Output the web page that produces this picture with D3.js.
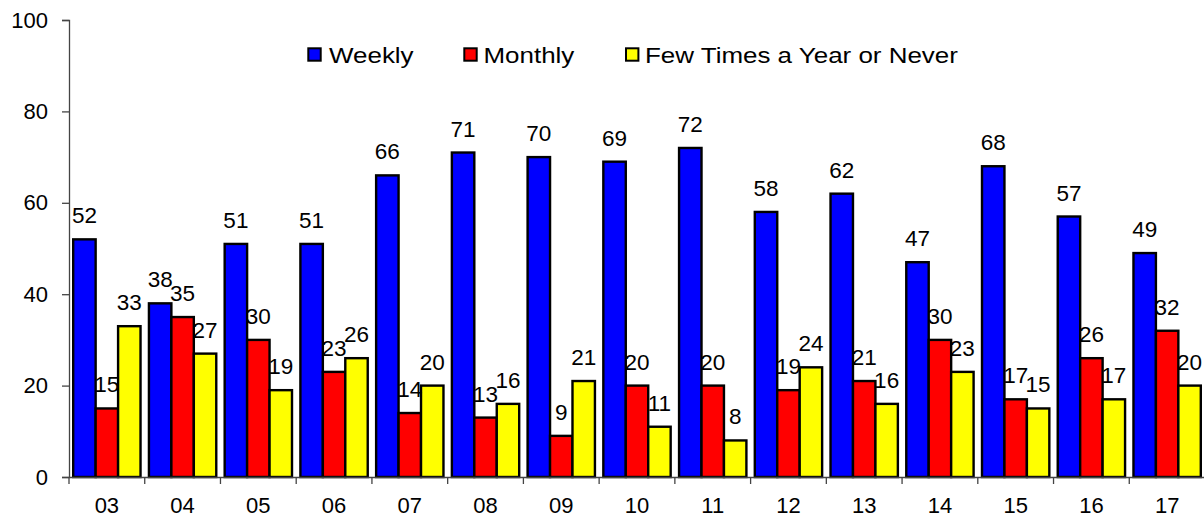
<!DOCTYPE html>
<html>
<head>
<meta charset="utf-8">
<script src="https://cdn.jsdelivr.net/npm/d3@7.9.0/dist/d3.min.js"></script>
<style>
  html, body { margin: 0; padding: 0; background: #fff; }
  svg { display: block; font-family: Arial, "Liberation Sans", sans-serif; }
</style>
</head>
<body>
<svg id="chart" width="1204" height="517"></svg>
<script>
const years = ['03', '04', '05', '06', '07', '08', '09', '10', '11', '12', '13', '14', '15', '16', '17'];
const seriesNames = ['Weekly', 'Monthly', 'Few Times a Year or Never'];
const weekly = [52, 38, 51, 51, 66, 71, 70, 69, 72, 58, 62, 47, 68, 57, 49];
const monthly = [15, 35, 30, 23, 14, 13, 9, 20, 20, 19, 21, 30, 17, 26, 32];
const fewTimes = [33, 27, 19, 26, 20, 16, 21, 11, 8, 24, 16, 23, 15, 17, 20];
const yTicks = [0, 20, 40, 60, 80, 100];
const colors = ['#0000ff', '#ff0000', '#ffff00'];

const seriesValues = [weekly, monthly, fewTimes];

const svg = d3.select('#chart');
const plot = { left: 69, right: 1205, top: 20, bottom: 477 };

const x = d3.scaleBand().domain(years).range([plot.left, plot.right]);
const inner = d3.scaleBand().domain(d3.range(3)).range([4.2, x.bandwidth() - 4.2]);
const y = d3.scaleLinear().domain([0, 100]).range([plot.bottom, plot.top]);

// y axis
const yAxis = svg.append('g')
  .attr('transform', `translate(${plot.left},0)`)
  .call(d3.axisLeft(y).tickValues(yTicks).tickSize(7).tickPadding(14));
yAxis.select('.domain').attr('stroke', '#444').attr('stroke-width', 1.3);
yAxis.selectAll('.tick line').attr('stroke', '#444').attr('stroke-width', 1.3);
yAxis.selectAll('.tick text').attr('font-size', 22).attr('fill', '#000')
  .attr('font-family', 'Arial, "Liberation Sans", sans-serif');

// bars
const groups = svg.append('g').selectAll('g')
  .data(years)
  .join('g')
  .attr('transform', d => `translate(${x(d)},0)`);

groups.selectAll('rect')
  .data((d, i) => seriesValues.map((s, k) => ({ k, v: s[i] })))
  .join('rect')
  .attr('x', d => inner(d.k))
  .attr('width', inner.bandwidth())
  .attr('y', d => y(d.v))
  .attr('height', d => y(0) - y(d.v))
  .attr('fill', d => colors[d.k])
  .attr('stroke', '#000')
  .attr('stroke-width', 2.4);

groups.selectAll('text')
  .data((d, i) => seriesValues.map((s, k) => ({ k, v: s[i] })))
  .join('text')
  .attr('x', d => inner(d.k) + inner.bandwidth() / 2)
  .attr('y', d => y(d.v) - 16)
  .attr('text-anchor', 'middle')
  .attr('font-size', 22.5)
  .text(d => d.v);

// x axis
const xAxis = svg.append('g')
  .attr('transform', `translate(0,${plot.bottom})`)
  .call(d3.axisBottom(x).tickSize(0).tickPadding(20.5));
xAxis.select('.domain').attr('stroke', '#444').attr('stroke-width', 1.3);
xAxis.selectAll('.tick text').attr('font-size', 22).attr('fill', '#000')
  .attr('font-family', 'Arial, "Liberation Sans", sans-serif');

svg.append('g').selectAll('line')
  .data(years.map(d => x(d)).concat([plot.right]))
  .join('line')
  .attr('x1', d => d).attr('x2', d => d)
  .attr('y1', plot.bottom).attr('y2', plot.bottom + 7)
  .attr('stroke', '#444').attr('stroke-width', 1.3);

// legend (text is drawn a little wide in the reference)
const legendX = [308.3, 464.3, 626];
const legendTextX = [329, 483.5, 645];
const legend = svg.append('g').selectAll('g')
  .data(seriesNames)
  .join('g');
legend.append('rect')
  .attr('x', (d, i) => legendX[i]).attr('y', 48.3)
  .attr('width', 12.4).attr('height', 12.4)
  .attr('fill', (d, i) => colors[i])
  .attr('stroke', '#000').attr('stroke-width', 2);
legend.append('text')
  .attr('transform', (d, i) => `translate(${legendTextX[i]},62.5) scale(1.18,1)`)
  .attr('font-size', 22)
  .text(d => d);
</script>
</body>
</html>
